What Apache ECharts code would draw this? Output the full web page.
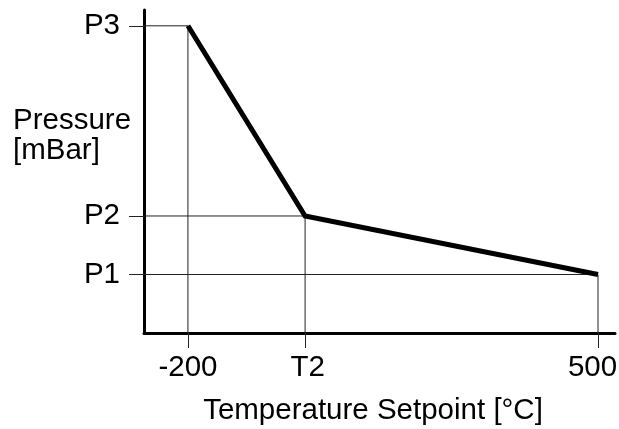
<!DOCTYPE html>
<html>
<head>
<meta charset="utf-8">
<script src="https://cdn.jsdelivr.net/npm/echarts@6/dist/echarts.min.js"></script>
<style>
  html, body { margin: 0; padding: 0; background: #fff; }
  #chart { width: 619px; height: 429px; }
</style>
</head>
<body>
<div id="chart"></div>
<script>
// 温度设定点 (x) 和压力 (y)，T2 / P1..P3 是符号值
const tempValues = [-200, 0, 500];
const tempLabels = ['-200', 'T2', '500'];
const pressureValues = [100, 200, 525];
const pressureLabels = ['P1', 'P2', 'P3'];
// 曲线上的三个拐点
const curveTemp = [-200, 0, 500];
const curvePressure = [525, 200, 100];

const xMin = -275, xMax = 529;
const yMin = 0, yMax = 552;

const font = 'Liberation Sans, Arial, sans-serif';
const fontSize = 29.5;

const chart = echarts.init(document.getElementById('chart'));

const curveData = curveTemp.map((t, i) => [t, curvePressure[i]]);

// 每个拐点到两轴的细引导线
const guideSeries = curveData.map(([t, p]) => ({
    type: 'line',
    data: [[xMin, p], [t, p], [t, yMin]],
    symbol: 'none',
    silent: true,
    lineStyle: { color: '#222', width: 1 },
    z: 1
}));

const labelStyle = { fontFamily: font, fontSize: fontSize, color: '#000' };

const option = {
    animation: false,
    title: {
        text: 'Pressure\n[mBar]',
        left: 8,
        top: 101,
        textStyle: Object.assign({ fontWeight: 'normal', lineHeight: 30 }, labelStyle)
    },
    grid: {
        left: 144,
        right: 4,
        top: 10,
        bottom: 96,
        outerBoundsMode: 'none'
    },
    xAxis: {
        type: 'value',
        min: xMin,
        max: xMax,
        name: 'Temperature Setpoint [°C]',
        nameLocation: 'middle',
        nameGap: 63,
        nameTextStyle: Object.assign({ padding: [0, 13, 0, 0] }, labelStyle),
        axisLine: { onZero: false, lineStyle: { color: '#000', width: 3 } },
        axisTick: {
            show: true,
            customValues: tempValues,
            length: 15,
            lineStyle: { color: '#222', width: 1 }
        },
        axisLabel: {
            customValues: tempValues,
            formatter: function (v) {
                const i = tempValues.indexOf(v);
                return i >= 0 ? '{t' + i + '|' + tempLabels[i] + '}' : '';
            },
            margin: 20,
            rich: {
                t0: Object.assign({}, labelStyle),
                t1: Object.assign({ padding: [0, 0, 0, 5] }, labelStyle),
                t2: Object.assign({ padding: [0, 11, 0, 0] }, labelStyle)
            }
        },
        splitLine: { show: false }
    },
    yAxis: {
        type: 'value',
        min: yMin,
        max: yMax,
        axisLine: { show: true, onZero: false, lineStyle: { color: '#000', width: 3 } },
        axisTick: {
            show: true,
            customValues: pressureValues,
            length: 15,
            lineStyle: { color: '#222', width: 1 }
        },
        axisLabel: Object.assign({
            customValues: pressureValues,
            formatter: function (v) {
                const i = pressureValues.indexOf(v);
                return i >= 0 ? pressureLabels[i] : '';
            },
            margin: 24,
            padding: [8, 0, 0, 0]
        }, labelStyle),
        splitLine: { show: false }
    },
    series: guideSeries.concat([{
        type: 'line',
        data: curveData,
        symbol: 'none',
        lineStyle: { color: '#000', width: 5, join: 'miter' },
        z: 3
    }])
};

chart.setOption(option);
</script>
</body>
</html>
